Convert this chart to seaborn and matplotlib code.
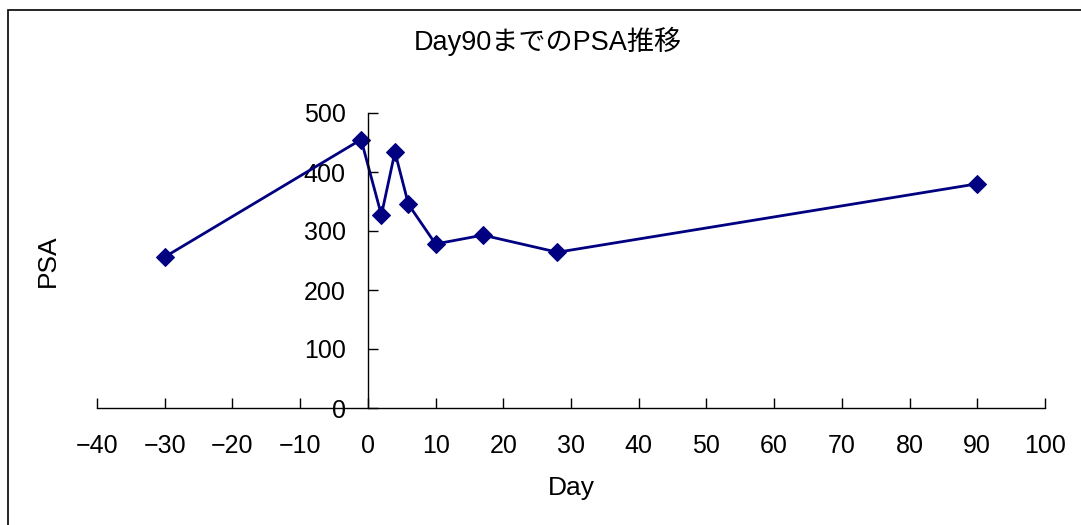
import matplotlib
matplotlib.use("Agg")
import matplotlib.pyplot as plt
from matplotlib.patches import Rectangle
import seaborn as sns
import pandas as pd

# PSA measurements by study day
days = [-30, -1, 2, 4, 6, 10, 17, 28, 90]
psa = [256, 455, 327, 434, 345, 278, 293, 264, 380]
x_ticks = list(range(-40, 101, 10))
y_ticks = list(range(0, 501, 100))

sns.set_style("white")
plt.rcParams["font.family"] = ["Liberation Sans", "Noto Sans CJK JP", "DejaVu Sans"]
plt.rcParams["axes.unicode_minus"] = True
plt.rcParams["text.color"] = "black"
plt.rcParams["axes.labelcolor"] = "black"

df = pd.DataFrame({"Day": days, "PSA": psa})

fig = plt.figure(figsize=(10.81, 5.25), dpi=100)
W, H = 1081, 525
AX_L, AX_R, AX_T, AX_B = 97, 1045, 113, 408
ax = fig.add_axes([AX_L / W, 1 - AX_B / H, (AX_R - AX_L) / W, (AX_B - AX_T) / H])

sns.lineplot(data=df, x="Day", y="PSA", ax=ax, color="#000080",
             marker="D", markersize=9, markeredgecolor="#000080",
             linewidth=2.0, sort=False)

ax.set_xlim(-40, 100)
ax.set_ylim(0, 500)
ax.set_xticks(x_ticks)
ax.set_yticks(y_ticks)
ax.set_xticklabels([("\u2212" + str(abs(v))) if v < 0 else str(v) for v in x_ticks])

# y axis crosses at Day 0, x axis at PSA 0
ax.spines["left"].set_position(("data", 0))
for s in ("top", "right"):
    ax.spines[s].set_visible(False)
for s in ("left", "bottom"):
    ax.spines[s].set_color("black")
    ax.spines[s].set_linewidth(1.0)

ax.tick_params(axis="x", bottom=True, direction="in", length=7, width=1.0,
               pad=19, labelsize=18, colors="black")
ax.tick_params(axis="y", left=True, direction="in", length=7, width=1.0,
               pad=16, labelsize=18, colors="black")
ax.grid(False)

ax.set_title("Day90までのPSA推移", fontsize=19.5, color="black",
             x=(548 - AX_L) / (AX_R - AX_L),
             y=(AX_B - 50) / (AX_B - AX_T), va="center")

ax.set_xlabel("Day", fontsize=19)
ax.set_ylabel("PSA", fontsize=19)
ax.xaxis.set_label_coords(0.5, -(488 - AX_B) / (AX_B - AX_T))
ax.xaxis.label.set_va("center")
ax.yaxis.set_label_coords((48 - AX_L) / (AX_R - AX_L), 0.5)
ax.yaxis.label.set_va("center")

# chart area frame
fig.patches.append(Rectangle((8 / W, -0.1), 1.2, (H - 10) / H + 0.1,
                             transform=fig.transFigure, fill=False,
                             edgecolor="black", linewidth=1.2))

fig.savefig("out.png", dpi=100)
